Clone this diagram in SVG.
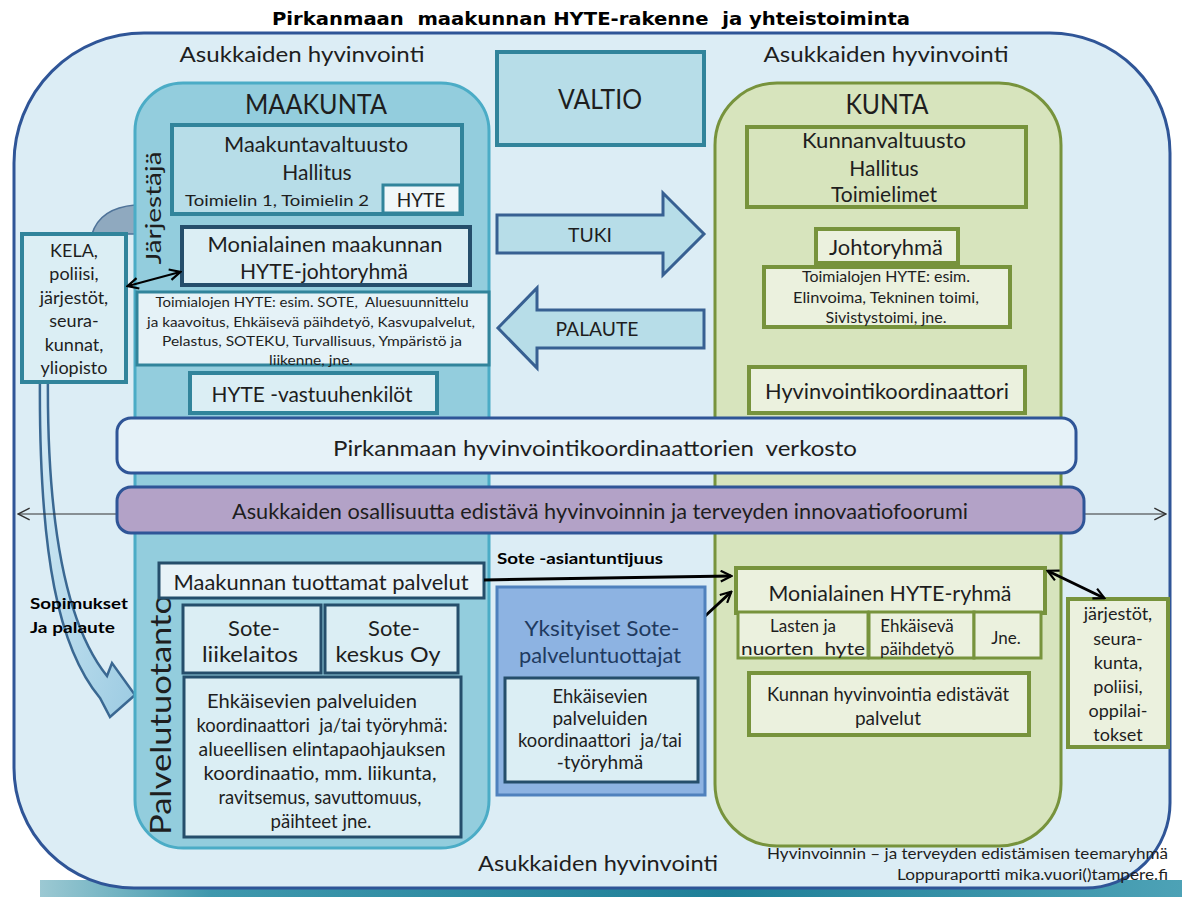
<svg xmlns="http://www.w3.org/2000/svg" width="1182" height="897" viewBox="0 0 1182 897">
<style>
text{font-family:Lato,"Liberation Sans",sans-serif;fill:#1e1e1e;text-anchor:middle;dominant-baseline:central;white-space:pre}
.f26{font-size:27px}.f22{font-size:22px}.f21{font-size:21px}.f20{font-size:20px}.f19{font-size:19px}.f18{font-size:18px}.f17{font-size:17px}.f16{font-size:16px}.f15{font-size:15px}.f14{font-size:14px}
.b{font-weight:bold}
.teal{stroke:#31849b;stroke-width:4}
.navy{stroke:#254e6b;stroke-width:3}
.green{stroke:#77933c;stroke-width:4}
.lb{fill:#dbeef4}
.lg{fill:#ebf1de}
.conn{fill:none;stroke:#000;stroke-width:3}
</style>
<defs>
<linearGradient id="strip" x1="0" y1="0" x2="1" y2="0">
<stop offset="0" stop-color="#9cc9d3"/><stop offset="0.15" stop-color="#3f98ad"/><stop offset="0.6" stop-color="#1f7f98"/><stop offset="1" stop-color="#4da2b6"/>
</linearGradient>
<linearGradient id="band" x1="0" y1="0" x2="1" y2="1">
<stop offset="0" stop-color="#d6ecf6"/><stop offset="1" stop-color="#9ccbe2"/>
</linearGradient>
<marker id="ah" viewBox="0 0 12 12" refX="10.5" refY="6" markerWidth="13" markerHeight="13" markerUnits="userSpaceOnUse" orient="auto-start-reverse">
<path d="M1,1 L11,6 L1,11" fill="none" stroke="#000" stroke-width="2"/>
</marker>
<marker id="ahThin" viewBox="0 0 12 12" refX="11" refY="6" markerWidth="14" markerHeight="14" markerUnits="userSpaceOnUse" orient="auto-start-reverse">
<path d="M1,1 L11,6 L1,11" fill="none" stroke="#333" stroke-width="1.2"/>
</marker>
</defs>

<rect x="0" y="0" width="1182" height="897" fill="#ffffff"/>
<rect x="40" y="880" width="1142" height="17" fill="url(#strip)"/>

<text class="b" x="591" y="19" style="font-family:'DejaVu Sans',sans-serif;font-size:17px;fill:#000" textLength="638" lengthAdjust="spacingAndGlyphs">Pirkanmaan  maakunnan HYTE-rakenne  ja yhteistoiminta</text>

<g id="outer">
<path d="M144 33 L1050 33 A120 120 0 0 1 1170 153 L1170 803 A85 85 0 0 1 1085 888 L134 888 A120 120 0 0 1 14 768 L14 163 A130 130 0 0 1 144 33 Z" fill="#dcedf5" stroke="#2f5597" stroke-width="3"/>
<text class="f22" x="302" y="53" textLength="245" lengthAdjust="spacingAndGlyphs">Asukkaiden hyvinvointi</text>
<text class="f22" x="886" y="53" textLength="245" lengthAdjust="spacingAndGlyphs">Asukkaiden hyvinvointi</text>
<text class="f22" x="598" y="862" textLength="240" lengthAdjust="spacingAndGlyphs">Asukkaiden hyvinvointi</text>
</g>

<g id="curved-arrow">
<path d="M92 234 Q100 208 135 205 L135 234 Z" fill="#8fa9bf" stroke="#4f7399" stroke-width="1.5"/>
<path d="M40 370 C38 560 60 650 100 698 L110 717 L135 695 L112 663 L107 676 C70 630 46 540 48 370 Z" fill="url(#band)" stroke="#3a6892" stroke-width="2.5"/>
</g>

<g id="maakunta">
<rect x="135" y="83" width="354" height="765" rx="48" fill="#93cddd" stroke="#4bacc6" stroke-width="3"/>
<text class="f26" x="316" y="103" textLength="142" lengthAdjust="spacingAndGlyphs">MAAKUNTA</text>
<text class="f22" transform="translate(152 208) rotate(-90)" x="0" y="0" textLength="113" lengthAdjust="spacingAndGlyphs">Järjestäjä</text>
<text transform="translate(160 715) rotate(-90)" x="0" y="0" style="font-size:28px" textLength="240" lengthAdjust="spacingAndGlyphs">Palvelutuotanto</text>
</g>

<g id="maakuntavaltuusto">
<rect x="172" y="125" width="290" height="89" fill="#b7dde8" class="teal"/>
<text class="f21" x="316" y="143" textLength="184" lengthAdjust="spacingAndGlyphs">Maakuntavaltuusto</text>
<text class="f21" x="317" y="171">Hallitus</text>
<text class="f16" x="277" y="199" textLength="184" lengthAdjust="spacingAndGlyphs">Toimielin 1, Toimielin 2</text>
</g>
<g id="hyte-maakunta">
<rect x="383" y="185" width="77" height="28" fill="#f0f7fa" stroke="#31849b" stroke-width="3"/>
<text class="f19" x="421" y="199">HYTE</text>
</g>

<g id="monialainen-maakunta">
<rect x="182" y="227" width="288" height="58" class="lb" stroke="#254e6b" stroke-width="4"/>
<text class="f22" x="325" y="243" textLength="235" lengthAdjust="spacingAndGlyphs">Monialainen maakunnan</text>
<text class="f22" x="324" y="270" textLength="168" lengthAdjust="spacingAndGlyphs">HYTE-johtoryhmä</text>
</g>

<g id="toimialojen-maakunta">
<rect x="137" y="292" width="352" height="73" fill="#e5f2f7" stroke="#31849b" stroke-width="3"/>
<text class="f14" x="312" y="301" textLength="313" lengthAdjust="spacingAndGlyphs">Toimialojen HYTE: esim. SOTE,  Aluesuunnittelu</text>
<text class="f14" x="311" y="321" textLength="328" lengthAdjust="spacingAndGlyphs">ja kaavoitus, Ehkäisevä päihdetyö, Kasvupalvelut,</text>
<text class="f14" x="312" y="340" textLength="300" lengthAdjust="spacingAndGlyphs">Pelastus, SOTEKU, Turvallisuus, Ympäristö ja</text>
<text class="f14" x="311" y="359" textLength="84" lengthAdjust="spacingAndGlyphs">liikenne, jne.</text>
</g>

<g id="hyte-vastuuhenkilot">
<rect x="190" y="373" width="247" height="40" class="lb teal"/>
<text class="f22" x="312" y="393" textLength="201" lengthAdjust="spacingAndGlyphs">HYTE -vastuuhenkilöt</text>
</g>

<g id="maakunnan-palvelut">
<rect x="159" y="563" width="325" height="35" fill="#e8f3f8" class="navy"/>
<text class="f22" x="321" y="581" textLength="295" lengthAdjust="spacingAndGlyphs">Maakunnan tuottamat palvelut</text>
</g>
<g id="sote-liikelaitos">
<rect x="183" y="605" width="138" height="68" class="lb navy"/>
<text class="f22" x="254" y="627">Sote-</text>
<text class="f22" x="250" y="653" textLength="96" lengthAdjust="spacingAndGlyphs">liikelaitos</text>
</g>
<g id="sote-keskus">
<rect x="325" y="605" width="133" height="68" class="lb navy"/>
<text class="f22" x="394" y="627">Sote-</text>
<text class="f22" x="388" y="653" textLength="105" lengthAdjust="spacingAndGlyphs">keskus Oy</text>
</g>
<g id="ehkaisevien-maakunta">
<rect x="184" y="677" width="277" height="160" class="lb navy"/>
<text class="f19" x="312" y="700" textLength="210" lengthAdjust="spacingAndGlyphs">Ehkäisevien palveluiden</text>
<text class="f19" x="322" y="724" textLength="251" lengthAdjust="spacingAndGlyphs">koordinaattori  ja/tai työryhmä:</text>
<text class="f19" x="322" y="748" textLength="247" lengthAdjust="spacingAndGlyphs">alueellisen elintapaohjauksen</text>
<text class="f19" x="320" y="772" textLength="233" lengthAdjust="spacingAndGlyphs">koordinaatio, mm. liikunta,</text>
<text class="f19" x="320" y="796" textLength="203" lengthAdjust="spacingAndGlyphs">ravitsemus, savuttomuus,</text>
<text class="f19" x="321" y="820" textLength="101" lengthAdjust="spacingAndGlyphs">päihteet jne.</text>
</g>

<g id="valtio">
<rect x="497" y="52" width="207" height="93" fill="#b7dde8" class="teal"/>
<text class="f26" x="600" y="98" textLength="84" lengthAdjust="spacingAndGlyphs">VALTIO</text>
</g>
<g id="tuki">
<polygon points="497,215 663,215 663,193 704,234 663,275 663,253 497,253" fill="#b7dde8" stroke="#376092" stroke-width="3" stroke-linejoin="miter"/>
<text class="f20" x="590" y="234" textLength="44" lengthAdjust="spacingAndGlyphs">TUKI</text>
</g>
<g id="palaute">
<polygon points="704,310 537,310 537,288 498,328 537,368 537,348 704,348" fill="#b7dde8" stroke="#376092" stroke-width="3"/>
<text class="f20" x="597" y="328" textLength="83" lengthAdjust="spacingAndGlyphs">PALAUTE</text>
</g>

<g id="kunta">
<rect x="715" y="83" width="346" height="763" rx="62" fill="#d7e4bd" stroke="#77933c" stroke-width="3"/>
<text class="f26" x="887" y="103" textLength="83" lengthAdjust="spacingAndGlyphs">KUNTA</text>
</g>
<g id="kunnanvaltuusto">
<rect x="747" y="127" width="279" height="80" fill="#d7e4bd" class="green"/>
<text class="f21" x="884" y="139" textLength="164" lengthAdjust="spacingAndGlyphs">Kunnanvaltuusto</text>
<text class="f21" x="884" y="167">Hallitus</text>
<text class="f21" x="884" y="193">Toimielimet</text>
</g>
<g id="toimialojen-kunta">
<rect x="764" y="267" width="246" height="60" class="lg green"/>
<text class="f15" x="886" y="276" textLength="168" lengthAdjust="spacingAndGlyphs">Toimialojen HYTE: esim.</text>
<text class="f15" x="886" y="297" textLength="186" lengthAdjust="spacingAndGlyphs">Elinvoima, Tekninen toimi,</text>
<text class="f15" x="886" y="317" textLength="121" lengthAdjust="spacingAndGlyphs">Sivistystoimi, jne.</text>
</g>
<g id="johtoryhma">
<rect x="816" y="229" width="142" height="34" class="lg green"/>
<text class="f21" x="886" y="246" textLength="114" lengthAdjust="spacingAndGlyphs">Johtoryhmä</text>
</g>
<g id="hyvinvointikoordinaattori">
<rect x="749" y="367" width="276" height="46" class="lg green"/>
<text class="f21" x="887" y="390" textLength="244" lengthAdjust="spacingAndGlyphs">Hyvinvointikoordinaattori</text>
</g>
<g id="monialainen-hyte-ryhma">
<rect x="736" y="568" width="309" height="45" class="lg green"/>
<text class="f22" x="890" y="592" textLength="243" lengthAdjust="spacingAndGlyphs">Monialainen HYTE-ryhmä</text>
</g>
<g id="lasten">
<rect x="738" y="612" width="130" height="46" class="lg" stroke="#77933c" stroke-width="3"/>
<text class="f17" x="803" y="625">Lasten ja</text>
<text class="f17" x="803" y="648" textLength="124" lengthAdjust="spacingAndGlyphs">nuorten  hyte</text>
</g>
<g id="ehkaiseva">
<rect x="869" y="612" width="105" height="46" class="lg" stroke="#77933c" stroke-width="3"/>
<text class="f17" x="917" y="625">Ehkäisevä</text>
<text class="f17" x="917" y="648">päihdetyö</text>
</g>
<g id="jne">
<rect x="974" y="612" width="67" height="46" class="lg" stroke="#77933c" stroke-width="3"/>
<text class="f17" x="1006" y="637">Jne.</text>
</g>
<g id="kunnan-palvelut">
<rect x="749" y="673" width="280" height="62" class="lg green"/>
<text class="f19" x="888" y="693" textLength="242" lengthAdjust="spacingAndGlyphs">Kunnan hyvinvointia edistävät</text>
<text class="f19" x="888" y="717">palvelut</text>
</g>

<g id="jarjestot-kunta">
<rect x="1068" y="599" width="100" height="148" class="lg green"/>
<text class="f18" x="1118" y="613">järjestöt,</text>
<text class="f18" x="1118" y="638">seura-</text>
<text class="f18" x="1118" y="662">kunta,</text>
<text class="f18" x="1118" y="686">poliisi,</text>
<text class="f18" x="1118" y="710">oppilai-</text>
<text class="f18" x="1118" y="734">tokset</text>
</g>

<g id="kela">
<rect x="22" y="234" width="104" height="148" class="lb teal"/>
<text class="f18" x="74" y="250">KELA,</text>
<text class="f18" x="74" y="273">poliisi,</text>
<text class="f18" x="74" y="297">järjestöt,</text>
<text class="f18" x="74" y="320">seura-</text>
<text class="f18" x="74" y="344">kunnat,</text>
<text class="f18" x="74" y="367">yliopisto</text>
</g>

<g id="connectors">
<line x1="117" y1="514" x2="18" y2="514" stroke="#333" stroke-width="1.2" marker-end="url(#ahThin)"/>
<line x1="1084" y1="514" x2="1166" y2="514" stroke="#333" stroke-width="1.2" marker-end="url(#ahThin)"/>
<line x1="128" y1="286" x2="180" y2="272" stroke="#000" stroke-width="2" marker-start="url(#ah)" marker-end="url(#ah)"/>
<line x1="484" y1="580" x2="731" y2="576" class="conn" marker-end="url(#ah)"/>
<line x1="703" y1="618" x2="731" y2="592" class="conn" marker-end="url(#ah)"/>
<line x1="1048" y1="571" x2="1104" y2="598" class="conn" marker-start="url(#ah)" marker-end="url(#ah)"/>
</g>

<g id="verkosto">
<rect x="117" y="418" width="959" height="55" rx="14" fill="#e6f2f8" stroke="#2f5597" stroke-width="3"/>
<text class="f22" x="595" y="447" textLength="524" lengthAdjust="spacingAndGlyphs">Pirkanmaan hyvinvointikoordinaattorien  verkosto</text>
</g>
<g id="innovaatiofoorumi">
<rect x="117" y="487" width="967" height="46" rx="14" fill="#b3a2c7" stroke="#2f5597" stroke-width="3"/>
<text class="f22" x="600" y="510" textLength="736" lengthAdjust="spacingAndGlyphs">Asukkaiden osallisuutta edistävä hyvinvoinnin ja terveyden innovaatiofoorumi</text>
</g>

<g id="yksityiset">
<rect x="497" y="587" width="208" height="208" fill="#8db3e2" stroke="#4f81bd" stroke-width="3"/>
<text class="f22" x="602" y="627" style="fill:#1f3a5f" textLength="155" lengthAdjust="spacingAndGlyphs">Yksityiset Sote-</text>
<text class="f22" x="600" y="654" style="fill:#1f3a5f" textLength="162" lengthAdjust="spacingAndGlyphs">palveluntuottajat</text>
</g>
<g id="ehkaisevien-yksityiset">
<rect x="505" y="678" width="193" height="104" class="lb navy"/>
<text class="f19" x="600" y="695" textLength="95" lengthAdjust="spacingAndGlyphs">Ehkäisevien</text>
<text class="f19" x="600" y="717">palveluiden</text>
<text class="f19" x="600" y="739" textLength="164" lengthAdjust="spacingAndGlyphs">koordinaattori  ja/tai</text>
<text class="f19" x="600" y="761">-työryhmä</text>
</g>

<text class="f16 b" x="580" y="557" style="fill:#000" textLength="166" lengthAdjust="spacingAndGlyphs">Sote -asiantuntijuus</text>
<text class="f16 b" x="30" y="602" style="text-anchor:start;fill:#000" textLength="98" lengthAdjust="spacingAndGlyphs">Sopimukset</text>
<text class="f16 b" x="30" y="626" style="text-anchor:start;fill:#000" textLength="85" lengthAdjust="spacingAndGlyphs">Ja palaute</text>

<text class="f15" x="1168" y="853" style="text-anchor:end" textLength="401" lengthAdjust="spacingAndGlyphs">Hyvinvoinnin – ja terveyden edistämisen teemaryhmä</text>
<text class="f15" x="1168" y="874" style="text-anchor:end" textLength="271" lengthAdjust="spacingAndGlyphs">Loppuraportti mika.vuori()tampere.fi</text>
</svg>
